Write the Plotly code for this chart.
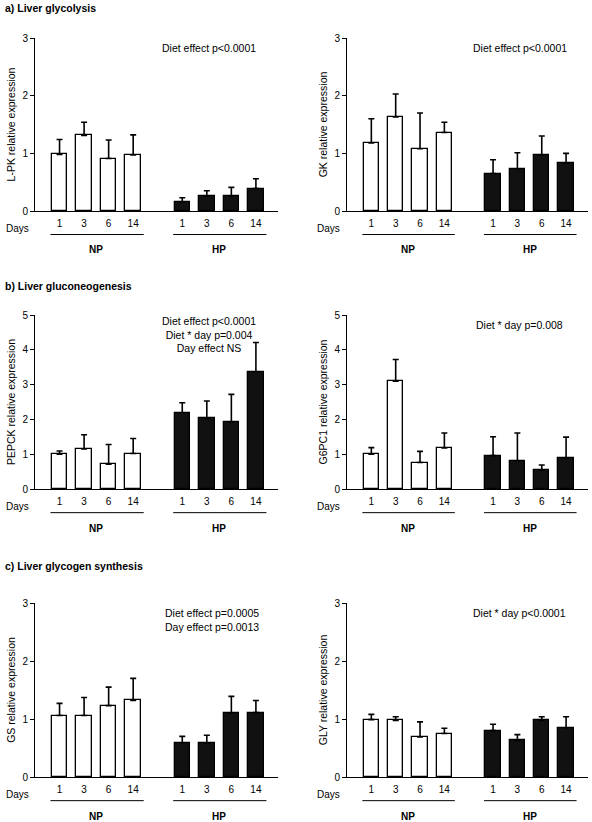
import plotly.graph_objects as go
from plotly.subplots import make_subplots

# ---------------- data ----------------
days = ["1", "3", "6", "14"]
groups = ["NP", "HP"]

lpk_np = [0.98, 1.31, 0.91, 0.97]
lpk_np_sem = [0.26, 0.23, 0.32, 0.35]
lpk_hp = [0.16, 0.26, 0.26, 0.39]
lpk_hp_sem = [0.07, 0.09, 0.15, 0.17]

gk_np = [1.18, 1.63, 1.08, 1.36]
gk_np_sem = [0.42, 0.40, 0.62, 0.18]
gk_hp = [0.65, 0.73, 0.97, 0.83]
gk_hp_sem = [0.24, 0.28, 0.33, 0.17]

pepck_np = [1.00, 1.15, 0.71, 1.02]
pepck_np_sem = [0.09, 0.41, 0.57, 0.43]
pepck_hp = [2.19, 2.03, 1.93, 3.37]
pepck_hp_sem = [0.29, 0.50, 0.79, 0.84]

g6pc1_np = [1.00, 3.10, 0.76, 1.18]
g6pc1_np_sem = [0.19, 0.62, 0.32, 0.43]
g6pc1_hp = [0.96, 0.81, 0.54, 0.89]
g6pc1_hp_sem = [0.54, 0.80, 0.15, 0.60]

gs_np = [1.06, 1.06, 1.23, 1.32]
gs_np_sem = [0.21, 0.31, 0.32, 0.38]
gs_hp = [0.59, 0.59, 1.10, 1.11]
gs_hp_sem = [0.11, 0.13, 0.29, 0.21]

gly_np = [0.99, 0.975, 0.69, 0.75]
gly_np_sem = [0.09, 0.065, 0.26, 0.09]
gly_hp = [0.80, 0.63, 0.975, 0.85]
gly_hp_sem = [0.11, 0.10, 0.065, 0.19]

panels = [
    ("L-PK relative expression", lpk_np, lpk_np_sem, lpk_hp, lpk_hp_sem, 3, "Diet effect p<0.0001", "center"),
    ("GK relative expression", gk_np, gk_np_sem, gk_hp, gk_hp_sem, 3, "Diet effect p<0.0001", "center"),
    ("PEPCK relative expression", pepck_np, pepck_np_sem, pepck_hp, pepck_hp_sem, 5,
     "Diet effect p<0.0001<br>Diet * day p=0.004<br>Day effect NS", "center"),
    ("G6PC1 relative expression", g6pc1_np, g6pc1_np_sem, g6pc1_hp, g6pc1_hp_sem, 5, "Diet * day p=0.008", "center"),
    ("GS relative expression", gs_np, gs_np_sem, gs_hp, gs_hp_sem, 3,
     "Diet effect p=0.0005<br>Day effect p=0.0013", "left"),
    ("GLY relative expression", gly_np, gly_np_sem, gly_hp, gly_hp_sem, 3, "Diet * day p<0.0001", "center"),
]
section_titles = ["a) Liver glycolysis", "b) Liver gluconeogenesis", "c) Liver glycogen synthesis"]

# ---------------- layout geometry ----------------
W, H = 592, 822
FONT = "Liberation Sans, Arial, sans-serif"
GAP = 5  # slot index of first HP bar
x_np = list(range(len(days)))
x_hp = [GAP + i for i in range(len(days))]

col_dom = [(35 / W, 278 / W), (347 / W, 588 / W)]
row_px = [(38, 211), (315, 489), (603, 777)]
row_dom = [(1 - b / H, 1 - t / H) for t, b in row_px]
title_y = [8, 286, 566]

fig = make_subplots(rows=3, cols=2)

annotations = []
shapes = []
for k, (ytitle, npv, nps, hpv, hps, ymax, note, note_align) in enumerate(panels):
    r, c = k // 2 + 1, k % 2 + 1
    fig.add_trace(go.Bar(
        x=x_np, y=npv, width=0.63,
        marker=dict(color="white", line=dict(color="black", width=1.3)),
        error_y=dict(type="data", array=nps, arrayminus=[0] * len(nps), symmetric=False,
                     color="black", thickness=1.6, width=3),
        showlegend=False, hoverinfo="y"), row=r, col=c)
    fig.add_trace(go.Bar(
        x=x_hp, y=hpv, width=0.63,
        marker=dict(color="#111111", line=dict(color="black", width=1.3)),
        error_y=dict(type="data", array=hps, arrayminus=[0] * len(hps), symmetric=False,
                     color="black", thickness=1.6, width=3),
        showlegend=False, hoverinfo="y"), row=r, col=c)

    sfx = "" if k == 0 else str(k + 1)
    xname, yname = "x" + sfx, "y" + sfx
    fig.update_xaxes(row=r, col=c, domain=col_dom[c - 1], range=[-1.0, 8.9], automargin=False,
                     tickvals=x_np + x_hp, ticktext=days + days, ticks="", ticklabelstandoff=3,
                     tickfont=dict(size=10, color="black", family=FONT),
                     showline=True, linecolor="black", linewidth=1, showgrid=False, zeroline=False,
                     fixedrange=True)
    fig.update_yaxes(row=r, col=c, domain=row_dom[r - 1], range=[0, ymax], automargin=False,
                     tickvals=list(range(ymax + 1)), ticks="outside", ticklen=4, tickwidth=1,
                     tickcolor="black", tickfont=dict(size=10, color="black", family=FONT),
                     showline=True, linecolor="black", linewidth=1, showgrid=False, zeroline=False,
                     title=dict(text=ytitle, font=dict(size=10.5, color="black", family=FONT), standoff=4),
                     fixedrange=True)

    # "Days" label
    annotations.append(dict(text="Days", xref="paper", yref=yname + " domain",
                            x=(4 if c == 1 else 315) / W, y=-0.1, xanchor="left", yanchor="middle",
                            showarrow=False, font=dict(size=10, color="black", family=FONT)))
    # group labels and underlines
    for g, xs in zip(groups, [x_np, x_hp]):
        annotations.append(dict(text="<b>%s</b>" % g, xref=xname, yref=yname + " domain",
                                x=(xs[0] + xs[-1]) / 2, y=-0.225, xanchor="center", yanchor="middle",
                                showarrow=False, font=dict(size=10, color="black", family=FONT)))
        shapes.append(dict(type="line", xref=xname, yref=yname + " domain",
                           x0=xs[0] - 0.37, x1=xs[-1] + 0.43, y0=-0.136, y1=-0.136,
                           line=dict(color="black", width=1)))
    # statistics note
    nx = 6.1 if k != 4 else 4.2
    annotations.append(dict(text=note, xref=xname, yref=yname + " domain",
                            x=nx, y=0.99 if k != 2 else 1.01,
                            xanchor="center" if note_align == "center" else "left",
                            yanchor="top", align=note_align, showarrow=False,
                            font=dict(size=10.5, color="black", family=FONT)))

for t, ty in zip(section_titles, title_y):
    annotations.append(dict(text="<b>%s</b>" % t, xref="paper", yref="paper",
                            x=3 / W, y=1 - ty / H, xanchor="left", yanchor="middle",
                            showarrow=False, font=dict(size=10.5, color="black", family=FONT)))

fig.update_layout(width=W, height=H, margin=dict(l=0, r=0, t=0, b=0),
                  paper_bgcolor="white", plot_bgcolor="white", bargap=0,
                  annotations=annotations, shapes=shapes,
                  font=dict(family=FONT, size=10, color="black"))

fig.write_html("out.html", config={"displayModeBar": False},
               post_script="document.body.style.margin='0';document.body.style.overflow='hidden';")
